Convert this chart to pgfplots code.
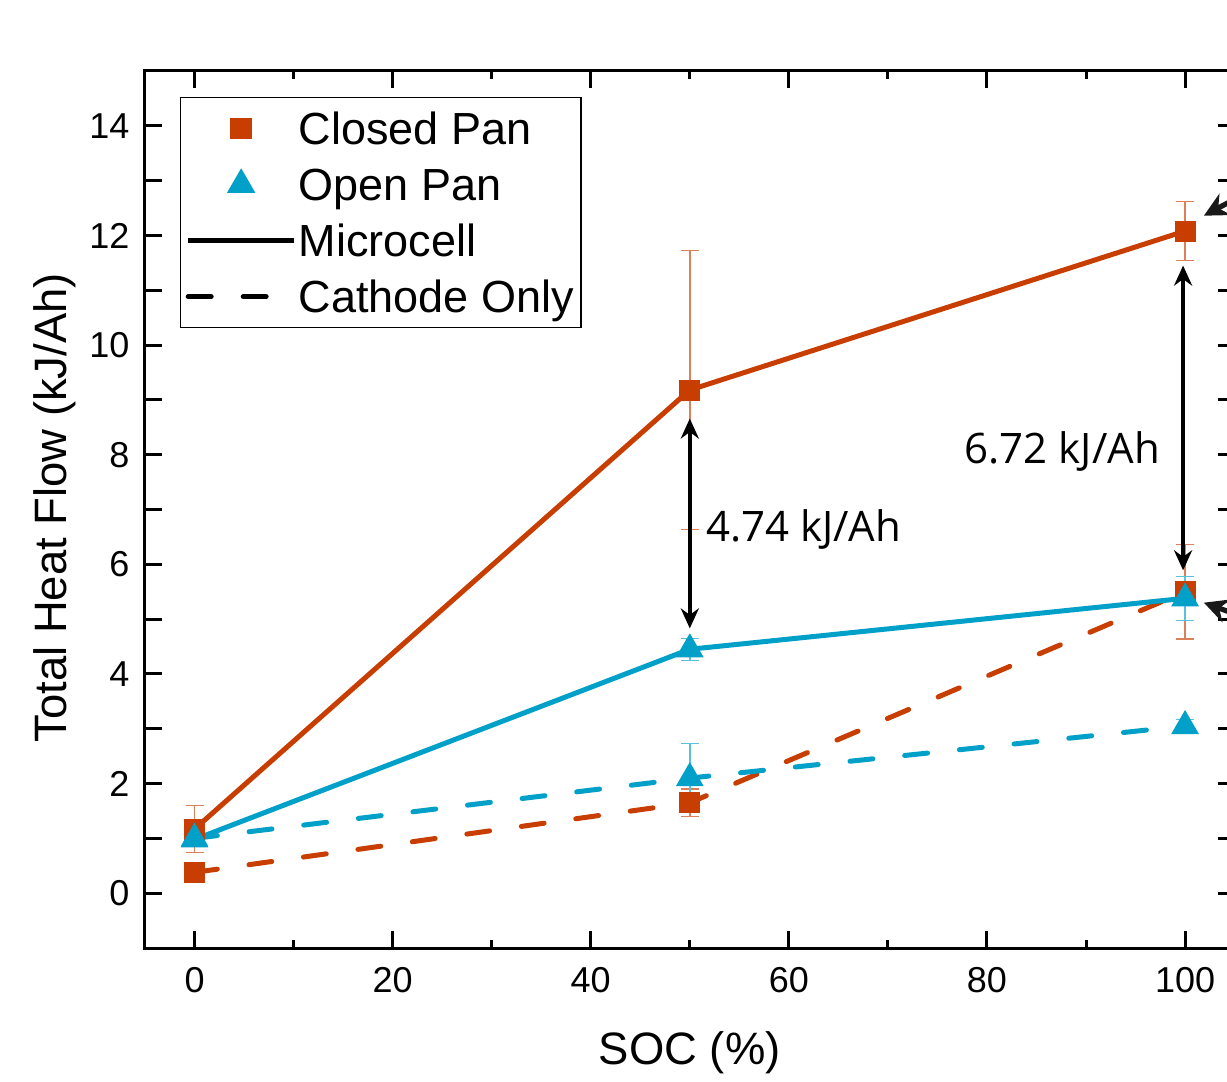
\documentclass[border=0pt]{standalone}
\usepackage{fontspec}
\setmainfont{Liberation Sans}
\newfontfamily\osans{Open Sans}
\usepackage{pgfplots}
\pgfplotsset{compat=1.18}
\usetikzlibrary{arrows.meta}
\definecolor{cp}{RGB}{200,61,0}
\definecolor{op}{RGB}{0,160,200}
\begin{document}
\begin{tikzpicture}
\useasboundingbox (-72.5pt,-67pt) rectangle (541pt,474pt);
\clip (-72.5pt,-67pt) rectangle (541pt,474pt);
\begin{axis}[
  scale only axis, width=544.8pt, height=438.5pt,
  xmin=-5, xmax=105, ymin=-1, ymax=15,
  clip=false,
  xtick={0,20,...,100}, minor xtick={10,30,...,90},
  ytick={0,1,...,14}, yticklabels={0,,2,,4,,6,,8,,10,,12,,14},
  tick align=inside, major tick length=8.5pt, minor tick length=4pt,
  axis line style={line width=1.5pt},
  every tick/.style={black, line width=1.5pt},
  every minor tick/.style={black, line width=1.5pt},
  /pgf/number format/assume math mode=true,
  tick label style={font=\fontsize{18}{21}\selectfont},
  xticklabel style={yshift=-6pt},
  yticklabel style={xshift=-4.3pt},
  every axis x label/.style={at={(axis description cs:0.5,-0.1334)}, anchor=base, font=\fontsize{22.7}{27}\selectfont},
  every axis y label/.style={at={(axis description cs:-0.0725,0.502)}, rotate=90, anchor=base, font=\fontsize{22.7}{27}\selectfont},
  xlabel={SOC (\%)},
  ylabel={Total Heat Flow (kJ/Ah)},
  legend style={at={(axis description cs:0.0321,0.9704)}, anchor=north west, draw=black, line width=0.7pt, inner xsep=2.5pt, inner ysep=1.5pt,
    font=\fontsize{22.5}{27}\selectfont,
    nodes={inner xsep=1pt, inner ysep=3pt, text height=19pt, text depth=3pt},
    cells={anchor=west}, row sep=0pt},
  legend image code/.code={\draw[mark repeat=2,mark phase=2,#1] plot coordinates {(0pt,0pt) (26.5pt,0pt) (53pt,0pt)};},
]
% Closed Pan - Microcell
\addplot[cp, line width=2.5pt, mark=square*, mark size=5pt, mark options={solid, line width=0.5pt},
  forget plot,
  error bars/.cd, y dir=both, y explicit,
  error bar style={cp!65!white, line width=0.7pt, solid},
  error mark options={rotate=90, mark size=4.5pt, line width=0.7pt, cp!65!white}]
  coordinates {(0,1.17) +- (0,0.43) (50,9.18) +- (0,2.55) (100,12.08) +- (0,0.54)};
% Closed Pan - Cathode only
\addplot[cp, line width=2.5pt, line cap=round, dash pattern=on 11.5pt off 16pt, mark=square*, mark size=5pt, mark options={solid, line width=0.5pt},
  forget plot,
  error bars/.cd, y dir=both, y explicit,
  error bar style={cp!65!white, line width=0.7pt, solid},
  error mark options={rotate=90, mark size=4.5pt, line width=0.7pt, cp!65!white, solid}]
  coordinates {(0,0.38) +- (0,0.05) (50,1.65) +- (0,0.25) (100,5.50) +- (0,0.86)};
% Open Pan - Microcell
\addplot[op, line width=2.5pt, mark=triangle*, mark size=7.5pt, mark options={solid, line width=0.5pt},
  forget plot,
  error bars/.cd, y dir=both, y explicit,
  error bar style={op!65!white, line width=0.7pt, solid},
  error mark options={rotate=90, mark size=4.5pt, line width=0.7pt, op!65!white}]
  coordinates {(0,0.98) +- (0,0.1) (50,4.45) +- (0,0.2) (100,5.38) +- (0,0.4)};
% Open Pan - Cathode only
\addplot[op, line width=2.5pt, line cap=round, dash pattern=on 11.5pt off 16pt, mark=triangle*, mark size=7.5pt, mark options={solid, line width=0.5pt},
  forget plot,
  error bars/.cd, y dir=both, y explicit,
  error bar style={op!65!white, line width=0.7pt, solid},
  error mark options={rotate=90, mark size=4.5pt, line width=0.7pt, op!65!white, solid}]
  coordinates {(0,1.0) +- (0,0.08) (50,2.1) +- (0,0.63) (100,3.05) +- (0,0.12)};

\addlegendimage{only marks, mark=square*, mark size=5pt, cp}
\addlegendentry{Closed Pan}
\addlegendimage{only marks, mark=triangle*, mark size=7.5pt, op}
\addlegendentry{Open Pan}
\addlegendimage{black, line width=2.5pt}
\addlegendentry{Microcell}
\addlegendimage{black, line width=2.5pt, line cap=round, dash pattern=on 11.5pt off 16pt}
\addlegendentry{Cathode Only}

% annotations
\draw[line width=2.2pt, {Stealth[length=10pt,width=9pt]}-{Stealth[length=10pt,width=9pt]}] (axis cs:50,8.66) -- (axis cs:50,4.83);
\draw[line width=2.2pt, {Stealth[length=10pt,width=9pt]}-{Stealth[length=10pt,width=9pt]}] (axis cs:99.8,11.45) -- (axis cs:99.8,5.89);
\node[anchor=west, inner sep=0pt, font=\osans\fontsize{21}{25}\selectfont] at (axis cs:51.6,6.63) {4.74 kJ/Ah};
\node[anchor=east, inner sep=0pt, font=\osans\fontsize{21}{25}\selectfont] at (axis cs:97.5,8.06) {6.72 kJ/Ah};
\draw[line width=2.6pt, black!90, -{Stealth[length=12pt,width=12pt]}] (axis cs:108,12.95) -- (axis cs:101.9,12.36);
\draw[line width=2.6pt, black!90, -{Stealth[length=12pt,width=12pt]}] (axis cs:108,4.9) -- (axis cs:101.9,5.30);
\end{axis}
\end{tikzpicture}
\end{document}
